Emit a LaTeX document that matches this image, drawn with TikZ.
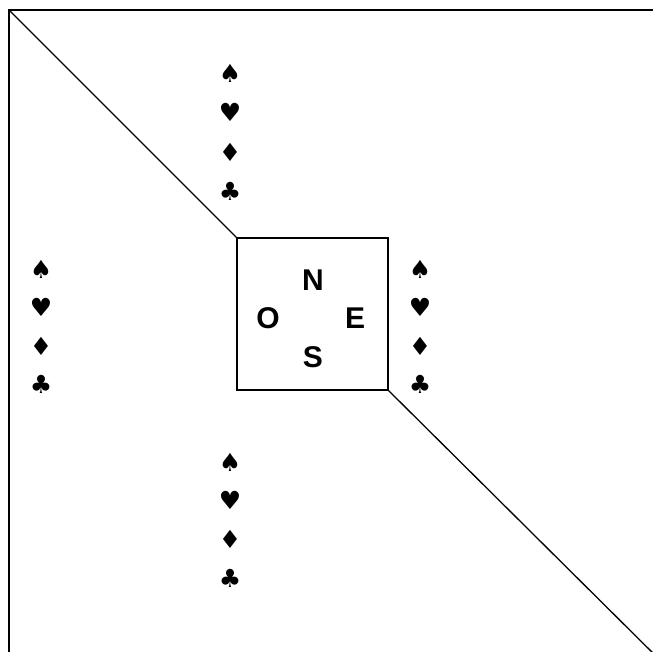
\documentclass[tikz,border=0pt]{standalone}
\usepackage{fontspec}
\setmainfont{Liberation Sans}
\newfontfamily\suitfont{DejaVu Sans}

\begin{document}
\begin{tikzpicture}[x=1pt,y=-1pt,
  seat/.style={font=\fontsize{30}{34}\selectfont\bfseries, inner sep=0pt},
  suit/.style={font=\suitfont\fontsize{25}{28}\selectfont, inner sep=0pt}]
\useasboundingbox (0,0) rectangle (653,652);
\clip (0,0) rectangle (653,652);
% cadre
\coordinate (corner1) at (9,10);
\coordinate (corner2) at (672,672);
\draw [line width=2pt] (corner1) rectangle (corner2);
%% table;
\node [draw, line width=1.3pt, minimum width=151pt, minimum height=152pt, inner sep=0pt] (table) at (312.5,314) {};
\draw [line width=1.3pt] (corner1) -- (table.north west);
\draw [line width=1.3pt] (table.south east) -- (corner2);
% joueurs
\node [seat] (nord) at (313,280) {N};
\node [seat] (sud) at (313,357) {S};
\node [seat] (ouest) at (268,318) {O};
\node [seat] (est) at (355,318) {E};
% couleurs
\foreach \s [count=\i from 0] in {♠,♥,♦,♣} {
  \node [suit] (hautc\i) at (230,73+39.5*\i) {\s};
  \node [suit] (gauchec\i) at (41,269+38.5*\i) {\s};
  \node [suit] (droitec\i) at (420,269+38.5*\i) {\s};
  \node [suit] (basc\i) at (230,462+38.7*\i) {\s};
}

\end{tikzpicture}
\end{document}
